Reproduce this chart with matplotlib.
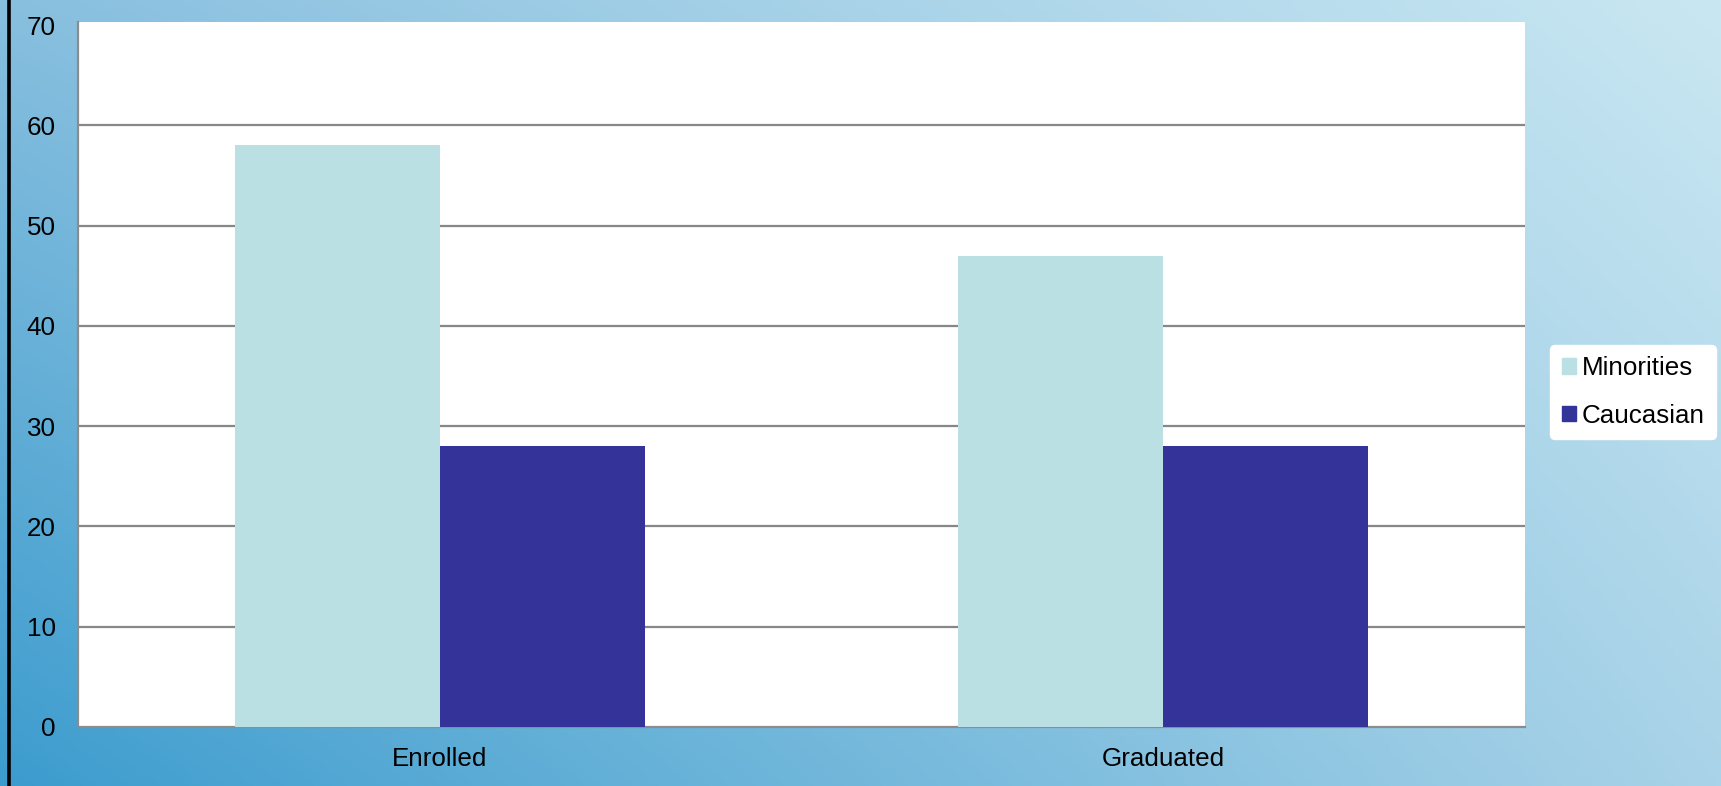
import matplotlib.pyplot as plt
import matplotlib.patches as mpatches
from matplotlib.lines import Line2D
import numpy as np

plt.rcParams['font.family'] = ['Liberation Sans', 'DejaVu Sans']

categories = ['Enrolled', 'Graduated']
series_names = ['Minorities', 'Caucasian']
minorities = [58, 47]
caucasian = [28, 28]
colors = ['#bae0e3', '#333399']
yticks = [0, 10, 20, 30, 40, 50, 60, 70]

W, H = 1721, 786
fig = plt.figure(figsize=(W / 100, H / 100), dpi=100)

# diagonal blue background, darker at bottom left
bg = fig.add_axes([0, 0, 1, 1])
bg.set_axis_off()
xs = np.linspace(0, 1, 400)
ys = np.linspace(0, 1, 200)
gx, gy = np.meshgrid(xs, ys)
tl = np.array([0x88, 0xbf, 0xdf]) / 255
tr = np.array([0xc9, 0xe7, 0xf2]) / 255
bl = np.array([0x3c, 0x9c, 0xce]) / 255
br = np.array([0xa9, 0xd3, 0xe8]) / 255
gx3 = gx[..., None]
gy3 = gy[..., None]
img = (tl * (1 - gx3) * (1 - gy3) + tr * gx3 * (1 - gy3)
       + bl * (1 - gx3) * gy3 + br * gx3 * gy3)
bg.imshow(img, aspect='auto', extent=[0, 1, 0, 1], origin='upper')
bg.set_xlim(0, 1)
bg.set_ylim(0, 1)

# black rule on the left edge
fig.add_artist(Line2D([8.5 / W, 8.5 / W], [0, 1], color='black', lw=2.6,
                      transform=fig.transFigure))

left, right = 78 / W, 1525 / W
bottom, top = 1 - 727 / H, 1 - 22 / H
ax = fig.add_axes([left, bottom, right - left, top - bottom])
ax.set_facecolor('white')

x = np.arange(len(categories))
width = 0.283
ax.bar(x - width / 2, minorities, width, color=colors[0], label=series_names[0], zorder=3)
ax.bar(x + width / 2, caucasian, width, color=colors[1], label=series_names[1], zorder=3)

ax.set_xlim(-0.5, 1.5)
ax.set_ylim(0, 70.3)
ax.set_yticks(yticks)
ax.set_xticks(x)
ax.set_xticklabels(categories)
ax.tick_params(axis='both', length=0, labelsize=18.7, colors='black')
ax.tick_params(axis='y', pad=16)
ax.tick_params(axis='x', pad=14.5)

ax.grid(axis='y', color='#878787', lw=1.6, zorder=1)
ax.get_ygridlines()[-1].set_visible(False)
ax.get_ygridlines()[0].set_visible(False)

for side in ['top', 'right']:
    ax.spines[side].set_visible(False)
for side in ['left', 'bottom']:
    ax.spines[side].set_color('#8c8c8c')
    ax.spines[side].set_linewidth(1.6)

handles = [mpatches.Rectangle((0, 0), 1, 1, color=c) for c in colors]
leg = fig.legend(handles, series_names, loc='center left',
                 bbox_to_anchor=(1550 / W, 1 - 392 / H), fontsize=18.7,
                 handlelength=0.54, handleheight=0.54, handletextpad=0.23,
                 labelspacing=0.9, borderpad=0.45, borderaxespad=0,
                 frameon=True, fancybox=True)
leg.get_frame().set_facecolor('white')
leg.get_frame().set_edgecolor('white')
leg.get_frame().set_alpha(1)

fig.savefig('out.png', dpi=100)
